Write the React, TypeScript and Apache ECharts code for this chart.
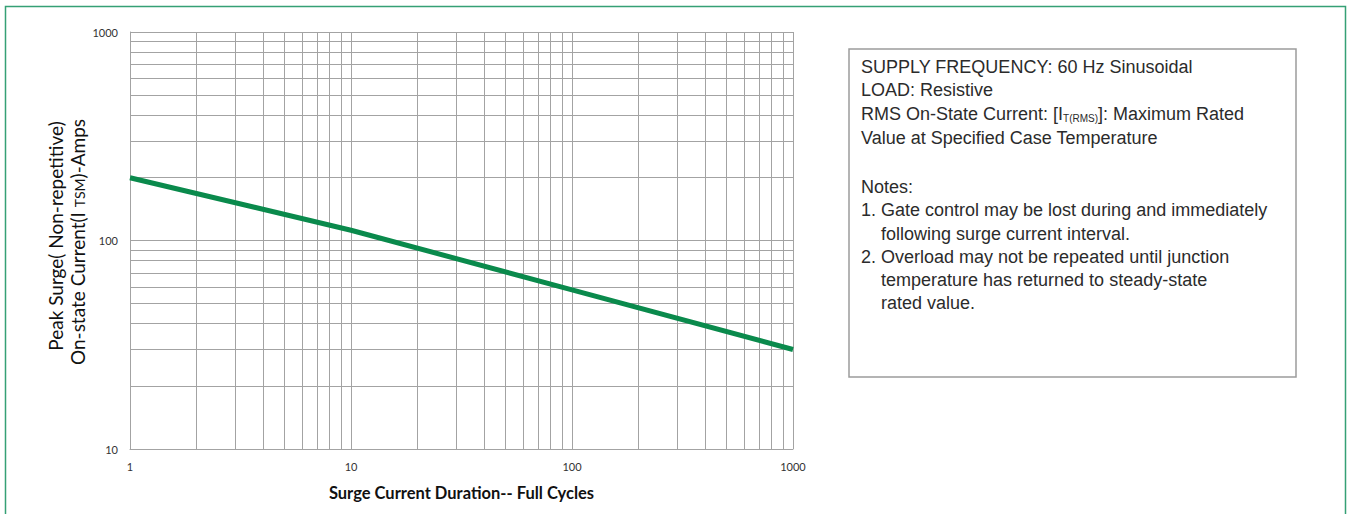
import React, { useEffect, useRef } from "react";
import * as echarts from "echarts";

const cycles = [1, 10, 100, 1000];
const surgeAmps = [200, 112, 58, 30];
const xMinorGrid = [2, 3, 4, 5, 6, 7, 8, 9, 20, 30, 40, 50, 60, 70, 80, 90, 200, 300, 400, 500, 600, 700, 800, 900];
const yMinorGrid = [20, 30, 40, 50, 60, 70, 80, 90, 200, 300, 400, 500, 600, 700, 800, 900];

const yTitleLine1 = "Peak Surge( Non-repetitive)";
const yTitleLine2 = "On-state Current(I {s|TSM})-Amps";
const xTitle = "Surge Current Duration-- Full Cycles";
const boxLines: { text: string; indent: number; y: number }[] = [
  { text: "SUPPLY FREQUENCY: 60 Hz Sinusoidal", indent: 0, y: 67 },
  { text: "LOAD: Resistive", indent: 0, y: 90 },
  { text: "RMS On-State Current: [I{sub|T(RMS)}]: Maximum Rated", indent: 0, y: 114 },
  { text: "Value at Specified Case Temperature", indent: 0, y: 138 },
  { text: "Notes:", indent: 0, y: 187 },
  { text: "1. Gate control may be lost during and immediately", indent: 0, y: 210 },
  { text: "following surge current interval.", indent: 20, y: 234 },
  { text: "2. Overload may not be repeated until junction", indent: 0, y: 257 },
  { text: "temperature has returned to steady-state", indent: 20, y: 280 },
  { text: "rated value.", indent: 20, y: 303 },
];

const GRID = "#a3a3a3";
const BOX_FONT = "'Liberation Sans', Arial, sans-serif";
const AX_FONT = "Lato, 'Open Sans', sans-serif";

export default function App() {
  const ref = useRef<HTMLDivElement>(null);
  useEffect(() => {
    if (!ref.current) return;
    const chart = echarts.init(ref.current, null, { renderer: "svg" });
    const data = cycles.map((c, i) => [c, surgeAmps[i]]);
    const fmt = (v: number) => String(Math.round(v));
    chart.setOption({
      animation: false,
      backgroundColor: "#ffffff",
      grid: { left: 130, top: 32, right: 555, bottom: 65, containLabel: false },
      xAxis: {
        type: "log",
        logBase: 10,
        min: 1,
        max: 1000,
        axisLine: { show: true, lineStyle: { color: GRID, width: 1 } },
        axisTick: { show: false },
        splitLine: { show: true, lineStyle: { color: GRID, width: 1 } },
        axisLabel: { fontSize: 11, color: "#333", margin: 12, fontFamily: AX_FONT, formatter: fmt },
        name: xTitle,
        nameLocation: "middle",
        nameGap: 35,
        nameTextStyle: { fontSize: 16.5, fontWeight: "bold", color: "#111", fontFamily: AX_FONT },
      },
      yAxis: {
        type: "log",
        logBase: 10,
        min: 10,
        max: 1000,
        axisLine: { show: true, lineStyle: { color: GRID, width: 1 } },
        axisTick: { show: false },
        splitLine: { show: true, lineStyle: { color: GRID, width: 1 } },
        axisLabel: { fontSize: 11, color: "#333", margin: 12, fontFamily: AX_FONT, formatter: fmt },
      },
      series: [
        {
          type: "line",
          z: 1,
          data: [[1, 10], [1000, 10]],
          showSymbol: false,
          lineStyle: { width: 0, opacity: 0 },
          silent: true,
          markLine: {
            silent: true,
            symbol: ["none", "none"],
            label: { show: false },
            lineStyle: { color: GRID, type: "solid", width: 1 },
            data: [
              ...xMinorGrid.map((v) => ({ xAxis: v })),
              ...yMinorGrid.map((v) => ({ yAxis: v })),
            ],
          },
        },
        {
          type: "line",
          z: 5,
          data,
          showSymbol: false,
          smooth: false,
          lineStyle: { color: "#0a8a4c", width: 5 },
        },
      ],
      graphic: [
        {
          type: "rect",
          shape: { x: 5.5, y: 6.5, width: 1340, height: 540 },
          style: { fill: "none", stroke: "#35a075", lineWidth: 1.5 },
          silent: true,
        },
        {
          type: "rect",
          shape: { x: 849, y: 49, width: 447, height: 328 },
          style: { fill: "#fff", stroke: "#9c9c9c", lineWidth: 1.5 },
          silent: true,
        },
        ...boxLines.map((l) => ({
          type: "text",
          x: 861 + l.indent,
          y: l.y,
          silent: true,
          style: {
            text: l.text,
            fontSize: 18,
            fontFamily: BOX_FONT,
            fill: "#2b2b2b",
            verticalAlign: "middle",
            rich: {
              sub: {
                fontSize: 10,
                fontFamily: BOX_FONT,
                fill: "#2b2b2b",
                verticalAlign: "bottom",
                padding: [9, 0, 0, 0],
              },
            },
          },
        })),
        {
          type: "text",
          x: 55,
          y: 236,
          rotation: Math.PI / 2,
          silent: true,
          style: {
            text: yTitleLine1,
            fontSize: 19,
            fontFamily: AX_FONT,
            fill: "#111",
            align: "center",
            verticalAlign: "middle",
          },
        },
        {
          type: "text",
          x: 77,
          y: 242,
          rotation: Math.PI / 2,
          silent: true,
          style: {
            text: yTitleLine2,
            fontSize: 19,
            fontFamily: AX_FONT,
            fill: "#111",
            align: "center",
            verticalAlign: "middle",
            rich: {
              s: { fontSize: 14, fontFamily: AX_FONT, fill: "#111", verticalAlign: "bottom", padding: [3, 0, 0, 0] },
            },
          },
        },
      ],
    });
    return () => chart.dispose();
  }, []);
  return (
    <div
      ref={ref}
      style={{ position: "fixed", left: 0, top: 0, width: 1348, height: 514 }}
    />
  );
}
